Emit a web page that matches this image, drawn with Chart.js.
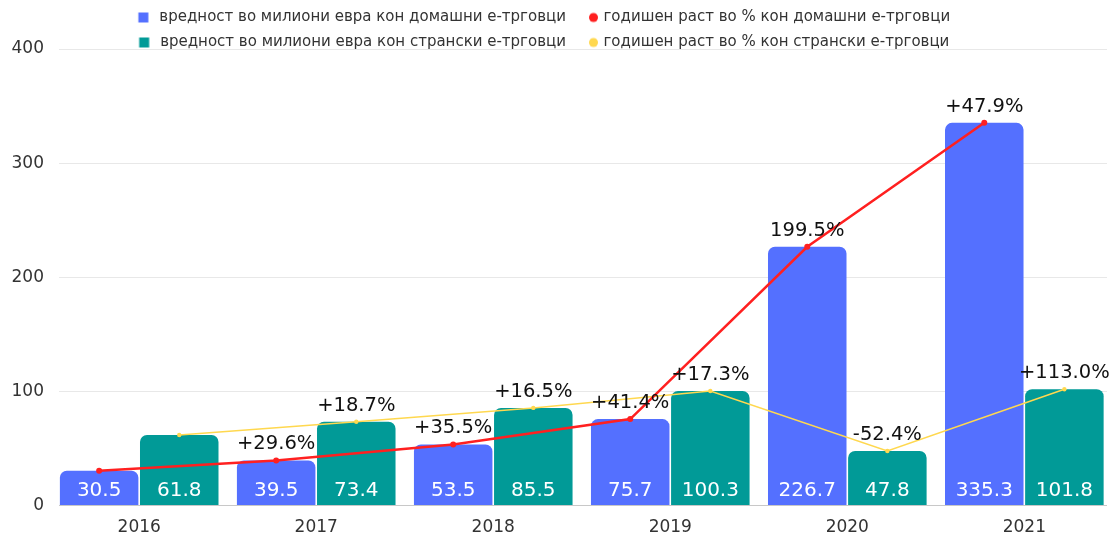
<!DOCTYPE html>
<html><head><meta charset="utf-8">
<script src="https://cdn.jsdelivr.net/npm/chart.js@4.4.1/dist/chart.umd.min.js"></script>
<style>
html,body{margin:0;padding:0;overflow:hidden;background:#fff;width:1111px;height:538px;}
#wrap{position:absolute;left:-29px;top:0;width:1140px;height:538px;}
</style></head><body>
<div id="wrap"><canvas id="c"></canvas></div>
<script>
const years = ['2016', '2017', '2018', '2019', '2020', '2021'];
const domesticValues = [30.5, 39.5, 53.5, 75.7, 226.7, 335.3];
const foreignValues = [61.8, 73.4, 85.5, 100.3, 47.8, 101.8];
const domesticGrowth = ['', '+29.6%', '+35.5%', '+41.4%', '199.5%', '+47.9%'];
const foreignGrowth = ['', '+18.7%', '+16.5%', '+17.3%', '-52.4%', '+113.0%'];
const seriesNames = [
  'вредност во милиони евра кон домашни е-трговци',
  'годишен раст во % кон домашни е-трговци',
  'вредност во милиони евра кон странски е-трговци',
  'годишен раст во % кон странски е-трговци'
];

const FONT = '"DejaVu Sans", sans-serif';
Chart.defaults.font.family = FONT;
Chart.defaults.color = '#333';

const CAT_PCT = 0.905;
const OFF = CAT_PCT / 4;
const COLORS = ['#5470ff', '#ff2020', '#019a97', '#ffd84f'];

function marker(color, shape, cx) {
  const c = document.createElement('canvas');
  c.width = 40; c.height = 16;
  const g = c.getContext('2d');
  g.fillStyle = color;
  if (shape === 'rect') g.fillRect(cx - 5, 3, 10, 10);
  else { g.beginPath(); g.arc(cx, 8, 4.5, 0, Math.PI * 2); g.fill(); }
  return c;
}
const markers = [
  marker(COLORS[0], 'rect', 21.5),
  marker(COLORS[1], 'circle', 27.5),
  marker(COLORS[2], 'rect', 21.5),
  marker(COLORS[3], 'circle', 27.5)
];

const labelPlugin = {
  id: 'valueLabels',
  afterDatasetsDraw(chart) {
    const ctx = chart.ctx;
    const y0 = chart.scales.y.getPixelForValue(0);
    ctx.save();
    ctx.textAlign = 'center';
    ctx.textBaseline = 'alphabetic';
    [[0, domesticValues], [2, foreignValues]].forEach(([di, vals]) => {
      const meta = chart.getDatasetMeta(di);
      ctx.font = '20px ' + FONT;
      ctx.fillStyle = '#ffffff';
      meta.data.forEach((el, i) => ctx.fillText(vals[i].toFixed(1), el.x, y0 - 10));
    });
    [[1, domesticGrowth], [3, foreignGrowth]].forEach(([di, labels]) => {
      const meta = chart.getDatasetMeta(di);
      ctx.font = '19.5px ' + FONT;
      ctx.fillStyle = '#111111';
      meta.data.forEach((el, i) => { if (labels[i]) ctx.fillText(labels[i], el.x, el.y - 11); });
    });
    ctx.restore();
  }
};

const barCommon = { type: 'bar', order: 1, borderRadius: 7, categoryPercentage: CAT_PCT, barPercentage: 0.98 };

new Chart(document.getElementById('c'), {
  data: {
    datasets: [
      Object.assign({}, barCommon, {
        label: seriesNames[0],
        data: years.map((_, i) => ({ x: i, y: domesticValues[i] })),
        backgroundColor: COLORS[0]
      }),
      {
        type: 'line', order: 0, label: seriesNames[1],
        data: years.map((_, i) => ({ x: i - OFF, y: domesticValues[i] })),
        borderColor: COLORS[1], backgroundColor: COLORS[1],
        borderWidth: 2.5, pointRadius: 3, pointBorderWidth: 0, tension: 0
      },
      Object.assign({}, barCommon, {
        label: seriesNames[2],
        data: years.map((_, i) => ({ x: i, y: foreignValues[i] })),
        backgroundColor: COLORS[2]
      }),
      {
        type: 'line', order: 0, label: seriesNames[3],
        data: years.map((_, i) => ({ x: i + OFF, y: foreignValues[i] })),
        borderColor: COLORS[3], backgroundColor: COLORS[3],
        borderWidth: 1.5, pointRadius: 2.2, pointBorderWidth: 0, tension: 0
      }
    ]
  },
  options: {
    responsive: true,
    maintainAspectRatio: false,
    animation: false,
    layout: { padding: 0 },
    scales: {
      x: {
        type: 'linear', min: -0.453, max: 5.467, offset: false,
        grid: { display: false, offset: false }, border: { display: false },
        afterBuildTicks: s => { s.ticks = years.map((_, i) => ({ value: i })); },
        afterFit: s => { s.height = 32.5; },
        ticks: { callback: v => years[v], padding: 4, font: { size: 17 }, color: '#333', maxRotation: 0, autoSkip: false }
      },
      y: {
        min: 0, max: 400,
        ticks: { stepSize: 100, padding: 15, font: { size: 17 }, color: '#333' },
        grid: { color: c => (c.tick && c.tick.value === 0) ? '#c8c8c8' : '#e8e8e8', drawTicks: false, lineWidth: 1 },
        border: { display: false },
        afterFit: s => { s.width = 88; }
      }
    },
    plugins: {
      tooltip: { enabled: false },
      legend: {
        position: 'top', align: 'center', maxHeight: 49,
        labels: {
          usePointStyle: true, pointStyleWidth: 20, padding: 10, color: '#333', font: { size: 15 },
          sort: (a, b) => a.datasetIndex - b.datasetIndex,
          generateLabels: chart => Chart.defaults.plugins.legend.labels.generateLabels(chart).map(it => { it.pointStyle = markers[it.datasetIndex]; return it; })
        }
      }
    }
  },
  plugins: [labelPlugin]
});
</script>
</body></html>
